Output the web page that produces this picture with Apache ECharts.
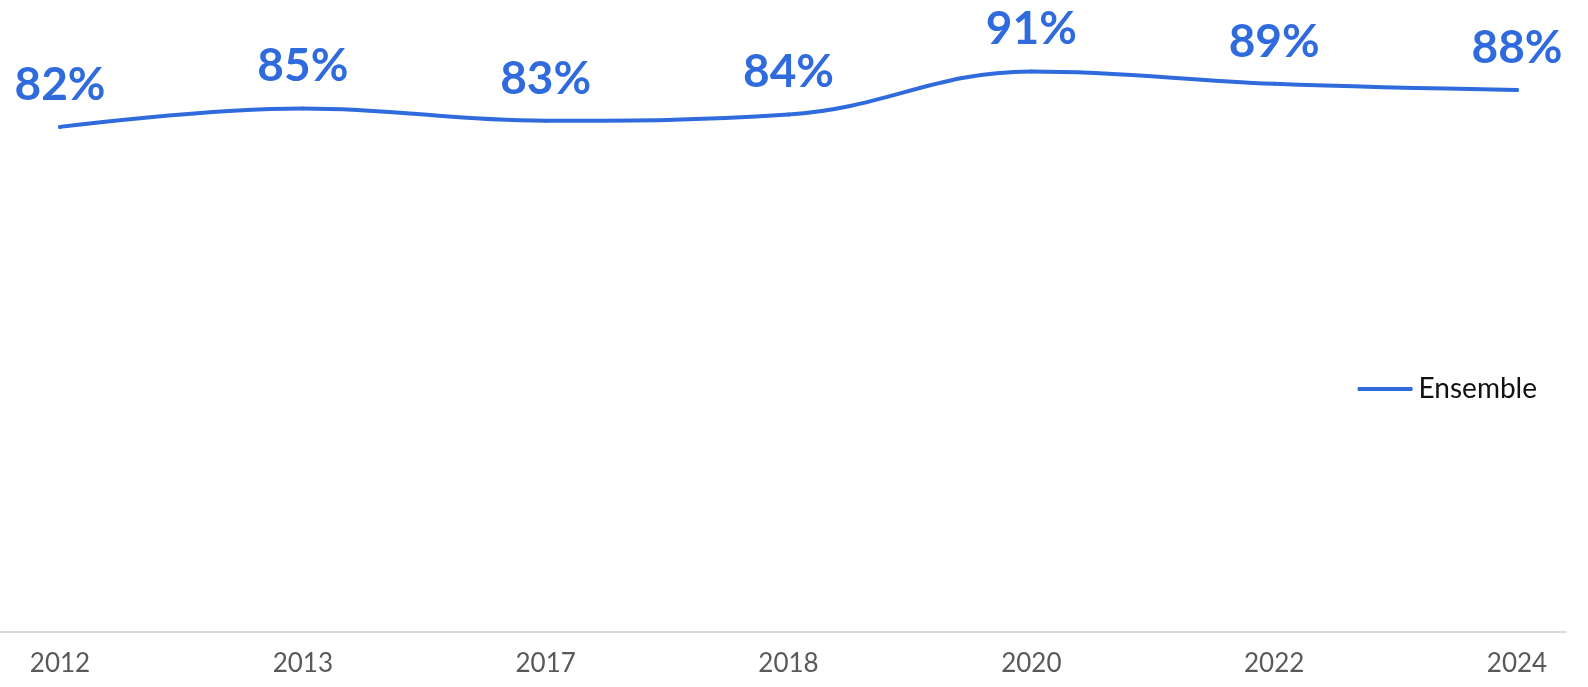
<!DOCTYPE html>
<html><head><meta charset="utf-8">
<script src="https://cdn.jsdelivr.net/npm/echarts@6/dist/echarts.min.js"></script>
<style>html,body{margin:0;padding:0;background:#fff}#c{width:1588px;height:687px}</style>
</head><body><div id="c"></div>
<script>
const categories = ['2012','2013','2017','2018','2020','2022','2024'];
const ensemble = [82, 85, 83, 84, 91, 89, 88];
const seriesName = 'Ensemble';
const color = '#2f6bdc';
const font = '"Century Gothic","Lato","Noto Sans",sans-serif';

const chart = echarts.init(document.getElementById('c'));
chart.setOption({
  backgroundColor: '#fff',
  animation: false,
  grid: [
    {left: 60, right: 71, top: 16, bottom: 55},
    {left: 0, right: 22, top: 16, bottom: 55}
  ],
  legend: {
    data: [{name: seriesName}],
    right: 46, top: 370,
    itemWidth: 55, itemHeight: 4, itemGap: 0,
    icon: 'roundRect',
    itemStyle: {color: color, opacity: 1},
    textStyle: {fontFamily: font, fontSize: 28, color: '#111', padding: [0,0,0,1]}
  },
  xAxis: [
    {type: 'category', gridIndex: 0, data: categories, boundaryGap: false,
     axisLine: {show: false}, axisTick: {show: false},
     axisLabel: {fontFamily: font, fontSize: 26, color: '#595959', margin: 19}},
    {type: 'category', gridIndex: 1, data: [], boundaryGap: false,
     axisLine: {show: true, lineStyle: {color: '#d9d9d9', width: 2}},
     axisTick: {show: false}, axisLabel: {show: false}}
  ],
  yAxis: [
    {type: 'value', gridIndex: 0, min: 0, max: 100, show: false},
    {type: 'value', gridIndex: 1, min: 0, max: 100, show: false}
  ],
  series: [{
    name: seriesName, type: 'line', data: ensemble,
    xAxisIndex: 0, yAxisIndex: 0,
    smooth: 0.4, showSymbol: true, symbol: 'circle', symbolSize: 4,
    lineStyle: {color: color, width: 4, cap: 'round'},
    itemStyle: {color: color},
    label: {show: true, position: 'top', distance: 17,
      formatter: p => p.value + '%',
      fontFamily: font, fontWeight: 'bold', fontSize: 46, color: color}
  }]
});
</script></body></html>
